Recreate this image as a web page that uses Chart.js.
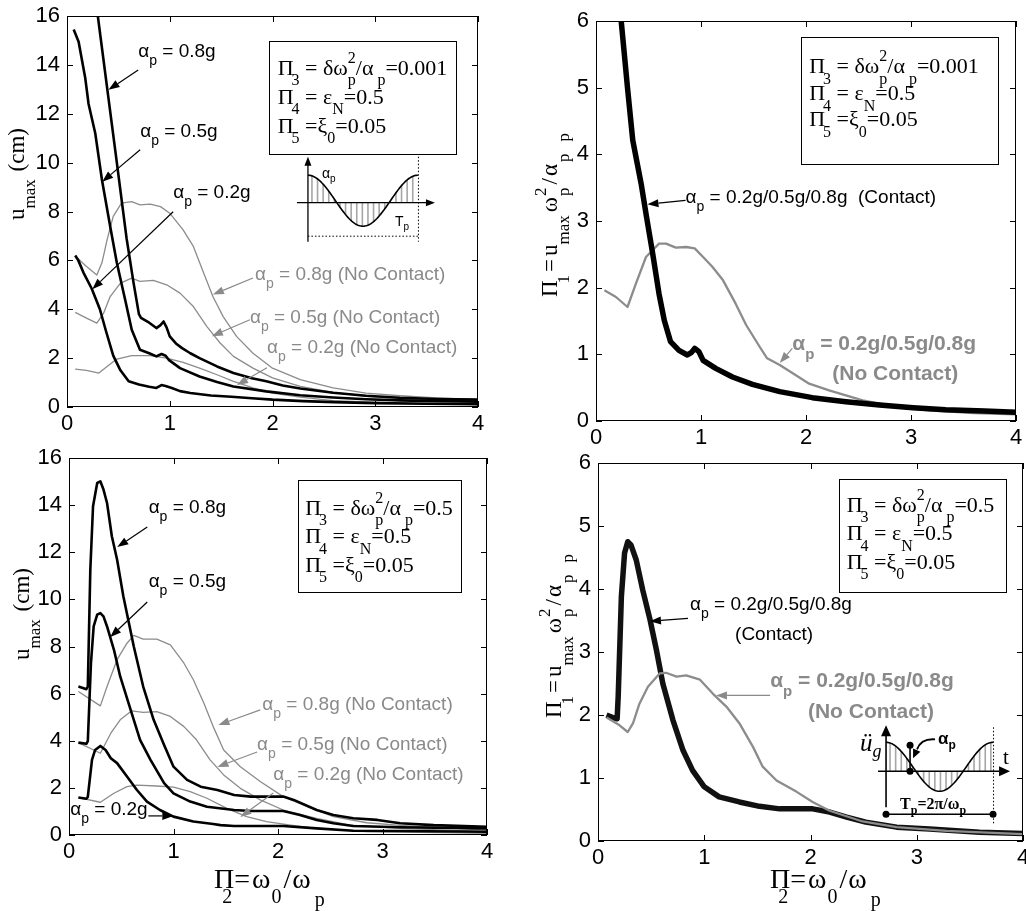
<!DOCTYPE html>
<html><head><meta charset="utf-8"><title>Peak displacement spectra</title>
<script src="https://cdn.jsdelivr.net/npm/chart.js@4.4.1/dist/chart.umd.min.js"></script>
<style>
html,body{margin:0;padding:0;background:#fff}
#wrap{position:relative;width:1026px;height:911px;overflow:hidden;background:#fff}
#wrap canvas{position:absolute;left:0;top:0}
</style></head><body><div id="wrap">
<canvas id="cA" width="1026" height="911"></canvas>
<canvas id="cB" width="1026" height="911"></canvas>
<canvas id="cC" width="1026" height="911"></canvas>
<canvas id="cD" width="1026" height="911"></canvas>
</div>
<script>
// ---------------- DATA ----------------
const xTicks = [0, 1, 2, 3, 4];
const yTicksU = [0, 2, 4, 6, 8, 10, 12, 14, 16];
const yTicksPi = [0, 1, 2, 3, 4, 5, 6];

// Panel A (top-left): u_max (cm), Pi3 = 0.001
const A_c08_x = [0.26,0.30,0.40,0.485,0.58,0.647,0.70,0.72,0.80,0.87,0.91,0.94,0.97,1.00,1.06,1.12,1.20,1.29,1.46,1.62,1.80,1.94,2.10,2.27,2.59,2.91,3.24,3.60,4.00];
const A_c08_y = [17.5,16.0,12.75,10.0,6.9,5.1,3.8,3.65,3.45,3.23,3.35,3.5,3.25,2.89,2.6,2.41,2.2,2.0,1.66,1.39,1.18,1.05,0.88,0.76,0.58,0.46,0.38,0.33,0.30];
const A_c05_x = [0.065,0.113,0.178,0.21,0.275,0.34,0.42,0.485,0.566,0.63,0.71,0.80,0.87,0.92,0.96,0.99,1.10,1.29,1.46,1.62,1.94,2.27,2.59,2.91,3.24,3.60,4.00];
const A_c05_y = [15.45,14.95,13.45,12.4,11.2,9.3,7.4,5.9,4.39,3.16,2.34,2.2,2.07,2.17,2.1,1.93,1.59,1.25,1.02,0.84,0.64,0.48,0.39,0.32,0.27,0.24,0.22];
const A_c02_x = [0.08,0.11,0.16,0.24,0.32,0.38,0.45,0.52,0.60,0.70,0.80,0.87,0.92,0.96,1.02,1.10,1.20,1.40,1.60,1.80,2.00,2.30,2.60,3.00,3.50,4.00];
const A_c02_y = [6.2,6.0,5.5,4.85,4.0,3.1,2.1,1.5,1.05,0.92,0.83,0.78,0.9,0.86,0.78,0.65,0.57,0.47,0.42,0.36,0.3,0.24,0.2,0.16,0.13,0.11];
const A_n08_x = [0.08,0.19,0.29,0.34,0.39,0.45,0.53,0.63,0.71,0.81,0.91,1.00,1.13,1.23,1.33,1.42,1.52,1.65,1.81,2.00,2.27,2.59,2.91,3.24,3.60,4.00];
const A_n08_y = [6.18,5.75,5.4,5.9,6.84,7.8,8.34,8.4,8.27,8.3,8.2,7.93,7.25,6.57,5.48,4.52,3.7,2.89,2.2,1.59,1.12,0.78,0.57,0.46,0.37,0.3];
const A_n05_x = [0.08,0.19,0.29,0.356,0.42,0.52,0.63,0.71,0.84,0.97,1.10,1.23,1.36,1.49,1.62,1.81,2.00,2.27,2.59,2.91,3.24,3.60,4.00];
const A_n05_y = [3.87,3.64,3.43,3.84,4.52,5.07,5.27,5.14,5.18,5.0,4.66,4.11,3.3,2.62,2.07,1.59,1.19,0.84,0.6,0.44,0.35,0.28,0.23];
const A_n02_x = [0.08,0.19,0.31,0.39,0.485,0.63,0.81,0.97,1.13,1.29,1.46,1.62,1.81,2.00,2.27,2.59,3.24,4.00];
const A_n02_y = [1.55,1.5,1.39,1.66,1.96,2.1,2.1,2.0,1.83,1.59,1.32,1.05,0.78,0.57,0.4,0.26,0.16,0.1];

// Panel B (top-right): Pi1, Pi3 = 0.001
const B_c_x = [0.20,0.24,0.30,0.35,0.43,0.476,0.54,0.60,0.65,0.71,0.79,0.87,0.91,0.94,0.98,1.02,1.14,1.30,1.49,1.75,2.06,2.38,2.70,3.02,3.33,3.70,4.00];
const B_c_y = [6.9,6.0,5.0,4.21,3.56,3.11,2.51,1.91,1.51,1.19,1.06,0.99,1.03,1.09,1.04,0.91,0.79,0.66,0.55,0.44,0.35,0.29,0.24,0.2,0.17,0.15,0.13];
const B_n_x = [0.08,0.19,0.30,0.38,0.476,0.60,0.667,0.76,0.86,0.94,1.02,1.11,1.21,1.33,1.43,1.56,1.63,1.75,1.90,2.03,2.22,2.54,2.86,3.17,3.60,4.00];
const B_n_y = [1.96,1.86,1.71,2.06,2.46,2.66,2.66,2.6,2.61,2.59,2.46,2.31,2.11,1.76,1.44,1.11,0.94,0.84,0.69,0.56,0.46,0.31,0.21,0.16,0.12,0.1];

// Panel C (bottom-left): u_max (cm), Pi3 = 0.5
const C_c08_x = [0.09,0.14,0.166,0.18,0.204,0.23,0.27,0.30,0.33,0.364,0.41,0.46,0.52,0.62,0.71,0.81,0.91,1.00,1.13,1.26,1.42,1.58,1.74,2.05,2.15,2.37,2.53,2.72,2.95,3.17,3.49,4.00];
const C_c08_y = [6.3,6.23,6.19,6.3,11.26,13.95,14.94,15.01,14.66,14.09,12.68,11.69,10.13,8.0,6.3,4.89,3.82,2.9,2.34,2.05,1.91,1.7,1.63,1.63,1.49,1.06,0.85,0.71,0.64,0.5,0.42,0.35];
const C_c05_x = [0.09,0.166,0.18,0.21,0.236,0.27,0.30,0.33,0.364,0.43,0.49,0.59,0.68,0.78,0.91,1.00,1.16,1.32,1.58,1.74,2.05,2.21,2.37,2.53,2.72,3.17,4.00];
const C_c05_y = [3.92,3.87,3.98,7.29,8.85,9.35,9.42,9.28,8.85,7.86,6.73,5.31,4.04,3.19,2.2,1.77,1.42,1.2,1.06,1.02,1.02,0.85,0.64,0.5,0.38,0.33,0.28];
const C_c02_x = [0.09,0.166,0.18,0.22,0.25,0.30,0.35,0.40,0.46,0.555,0.65,0.746,0.87,1.00,1.19,1.38,1.45,1.58,2.05,2.37,2.72,3.17,4.00];
const C_c02_y = [1.59,1.54,1.62,3.19,3.61,3.78,3.61,3.26,3.05,2.48,1.91,1.42,1.06,0.78,0.57,0.47,0.42,0.38,0.38,0.28,0.18,0.17,0.14];
const C_n08_x = [0.09,0.30,0.364,0.46,0.555,0.62,0.71,0.84,0.97,1.10,1.19,1.29,1.38,1.48,1.64,1.83,2.05,2.28,2.53,2.85,3.17,4.00];
const C_n08_y = [6.09,5.48,6.3,7.44,8.14,8.47,8.31,8.31,8.07,7.29,6.59,5.6,4.6,3.61,2.9,2.27,1.63,1.2,0.78,0.52,0.41,0.21];
const C_n05_x = [0.09,0.30,0.40,0.49,0.60,0.71,0.84,0.97,1.10,1.22,1.35,1.48,1.64,1.83,2.05,2.37,2.69,3.17,4.00];
const C_n05_y = [3.92,3.47,4.32,4.89,5.27,5.2,5.24,5.03,4.6,4.04,3.19,2.55,1.98,1.49,1.06,0.71,0.42,0.28,0.14];
const C_n02_x = [0.09,0.30,0.43,0.555,0.65,0.84,1.00,1.16,1.32,1.51,1.70,1.89,2.12,2.37,2.85,4.00];
const C_n02_y = [1.59,1.39,1.77,2.05,2.12,2.08,2.03,1.84,1.56,1.13,0.78,0.57,0.42,0.28,0.14,0.07];

// Panel D (bottom-right): Pi1, Pi3 = 0.5
const D_c_x = [0.08,0.14,0.18,0.19,0.22,0.25,0.28,0.31,0.36,0.42,0.49,0.55,0.61,0.705,0.80,0.89,1.00,1.14,1.33,1.52,1.71,2.02,2.18,2.34,2.52,2.81,3.12,3.59,4.00];
const D_c_y = [2.0,1.96,1.94,2.29,3.88,4.57,4.75,4.70,4.46,3.99,3.51,3.03,2.5,1.92,1.44,1.12,0.86,0.70,0.62,0.55,0.51,0.51,0.46,0.38,0.30,0.22,0.19,0.14,0.12];
const D_n_x = [0.08,0.20,0.28,0.33,0.39,0.47,0.58,0.64,0.74,0.83,0.96,1.08,1.21,1.33,1.46,1.55,1.68,1.87,2.02,2.18,2.49,2.81,3.28,4.00];
const D_n_y = [1.96,1.84,1.73,1.87,2.18,2.45,2.66,2.67,2.61,2.63,2.56,2.34,2.13,1.87,1.49,1.18,0.96,0.78,0.62,0.48,0.31,0.22,0.16,0.11];

// ---------------- STYLE / HELPERS ----------------
const FS = "'Liberation Sans', Arial, Helvetica, sans-serif";
const FT = "'Liberation Serif', 'Times New Roman', Times, serif";
const BLACK = '#000000', GRAY = '#8a8a8a', LGRAY = '#8c8c8c';
const YAXW = 60, XAXH = 40;

function pts(xs, ys){ return xs.map((x,i)=>({x:x, y:ys[i]})); }

function rich(ctx, x, y, segs, o){
  const fam=o.family||FS, S=o.size, s=o.sub||Math.round(S*0.72), w=o.weight||'normal', st=o.style||'normal';
  const drop=(o.drop!=null?o.drop:0.45)*S, rise=(o.rise!=null?o.rise:0.5)*S;
  const font=(sz)=>st+' '+w+' '+sz+'px '+fam;
  ctx.save(); ctx.translate(x,y); if(o.rot) ctx.rotate(o.rot);
  ctx.fillStyle=o.color||BLACK; ctx.textAlign='left'; ctx.textBaseline='alphabetic';
  let cx=0;
  for(const g of segs){
    const t=g[0], k=g[1]||'', dx=g[2]||0, dy=g[3]||0;
    cx+=dx;
    if(k==='sub'){ ctx.font=font(s); ctx.fillText(t,cx,drop+dy); cx+=ctx.measureText(t).width; }
    else if(k==='sup'){ ctx.font=font(s); ctx.fillText(t,cx,-rise+dy); cx+=ctx.measureText(t).width; }
    else if(k==='ss'){ const ab=t.split('|'); ctx.font=font(s); ctx.fillText(ab[0],cx,-rise); ctx.fillText(ab[1],cx,drop);
      cx+=Math.max(ctx.measureText(ab[0]).width, ctx.measureText(ab[1]).width); }
    else { ctx.font=font(S); ctx.fillText(t,cx,dy); cx+=ctx.measureText(t).width; }
  }
  ctx.restore(); return cx;
}

function arrowHead(ctx, x2, y2, ang, hl, hw){
  const bx=x2-hl*Math.cos(ang), by=y2-hl*Math.sin(ang);
  ctx.beginPath(); ctx.moveTo(x2,y2);
  ctx.lineTo(bx-hw*Math.sin(ang), by+hw*Math.cos(ang));
  ctx.lineTo(bx+hw*Math.sin(ang), by-hw*Math.cos(ang));
  ctx.closePath(); ctx.fill();
  return [bx,by];
}
function arrow(ctx, x1,y1,x2,y2,color,lw){
  const ang=Math.atan2(y2-y1,x2-x1);
  ctx.save(); ctx.strokeStyle=color; ctx.fillStyle=color; ctx.lineWidth=lw||1.2;
  const b=arrowHead(ctx,x2,y2,ang,11,4);
  ctx.beginPath(); ctx.moveTo(x1,y1); ctx.lineTo(b[0],b[1]); ctx.stroke();
  ctx.restore();
}

function ap(rest){ return [['α'],['p','sub'],[rest]]; }

const boxLinesA = [
  [['Π'],['3','sub',-2],[' = δω'],['2|p','ss'],['/α'],['p','sub',4],['=0.001']],
  [['Π'],['4','sub',-2],[' = ε'],['N','sub'],['=0.5']],
  [['Π'],['5','sub',-2],[' =ξ'],['0','sub'],['=0.05']]
];
const boxLinesC = [
  [['Π'],['3','sub',-2],[' = δω'],['2|p','ss'],['/α'],['p','sub',4],['=0.5']],
  [['Π'],['4','sub',-2],[' = ε'],['N','sub'],['=0.5']],
  [['Π'],['5','sub',-2],[' =ξ'],['0','sub'],['=0.05']]
];
const titleU = [['u'],['max','sub'],[' (cm)',null,2]];
const titlePi1 = [['Π'],['1','sub',-3],['=',null,3],['u',null,3],['max','sub'],['ω',null,3],['2|p','ss',1],['/',null,3],['α',null,2],['p','sub',2],['p','sub',12]];
const titlePi2 = [['Π'],['2','sub',-12],['=',null,2],['ω',null,2],['0','sub',1],['/',null,2],['ω',null,1],['p','sub',4,3]];

// inset drawings (decorative pulse sketch), anchored at data position
function inset1(ctx, ox, oy){
  ctx.save(); ctx.translate(ox,oy);
  const P=110, A=25.5, C=-2;
  ctx.strokeStyle='#a6a6a6'; ctx.lineWidth=1.6;
  for(let x=4; x<P; x+=5.6){ const yy=C-A*Math.cos(2*Math.PI*x/P); ctx.beginPath(); ctx.moveTo(x,0); ctx.lineTo(x,yy); ctx.stroke(); }
  ctx.strokeStyle='#000'; ctx.lineWidth=1.6; ctx.beginPath();
  for(let x=0; x<=P; x+=1){ const yy=C-A*Math.cos(2*Math.PI*x/P); if(x===0) ctx.moveTo(x,yy); else ctx.lineTo(x,yy); }
  ctx.stroke();
  ctx.fillStyle='#000'; ctx.lineWidth=1.3;
  ctx.beginPath(); ctx.moveTo(0,39); ctx.lineTo(0,-38); ctx.stroke(); arrowHead(ctx,0,-46,-Math.PI/2,9,3.5);
  ctx.beginPath(); ctx.moveTo(-11,0); ctx.lineTo(119,0); ctx.stroke(); arrowHead(ctx,127,0,0,9,3.5);
  ctx.setLineDash([1.5,2]); ctx.lineWidth=1;
  ctx.beginPath(); ctx.moveTo(P+0.5,-46); ctx.lineTo(P+0.5,39); ctx.moveTo(0,33.5); ctx.lineTo(P,33.5); ctx.stroke();
  ctx.setLineDash([]);
  rich(ctx,14,-25,[['α'],['p','sub']],{family:FS,size:14,drop:0.3});
  rich(ctx,87,23,[['T'],['p','sub']],{family:FS,size:14,drop:0.3});
  ctx.restore();
}
function inset2(ctx, ox, oy){
  ctx.save(); ctx.translate(ox,oy);
  const P=107, A=24.5, C=-4.5;
  ctx.strokeStyle='#a6a6a6'; ctx.lineWidth=1.6;
  for(let x=4; x<P; x+=5.6){ const yy=C-A*Math.cos(2*Math.PI*x/P); ctx.beginPath(); ctx.moveTo(x,0); ctx.lineTo(x,yy); ctx.stroke(); }
  ctx.strokeStyle='#000'; ctx.lineWidth=1.6; ctx.beginPath();
  for(let x=0; x<=P; x+=1){ const yy=C-A*Math.cos(2*Math.PI*x/P); if(x===0) ctx.moveTo(x,yy); else ctx.lineTo(x,yy); }
  ctx.stroke();
  ctx.fillStyle='#000'; ctx.lineWidth=1.6;
  ctx.beginPath(); ctx.moveTo(0,36); ctx.lineTo(0,-36); ctx.stroke(); arrowHead(ctx,0,-46,-Math.PI/2,11,5);
  ctx.beginPath(); ctx.moveTo(-8,0); ctx.lineTo(113,0); ctx.stroke(); arrowHead(ctx,124,0,0,11,5);
  ctx.setLineDash([1.5,2]); ctx.lineWidth=1;
  ctx.beginPath(); ctx.moveTo(P+0.5,-44); ctx.lineTo(P+0.5,54); ctx.stroke();
  ctx.setLineDash([]);
  ctx.lineWidth=1.6;
  ctx.beginPath(); ctx.moveTo(0,43); ctx.lineTo(P,43); ctx.stroke();
  ctx.beginPath(); ctx.arc(0,43,3.5,0,7); ctx.fill(); ctx.beginPath(); ctx.arc(P,43,3.5,0,7); ctx.fill();
  ctx.beginPath(); ctx.moveTo(24,-26); ctx.lineTo(24,0); ctx.stroke();
  ctx.beginPath(); ctx.arc(24,-26,3.5,0,7); ctx.fill(); ctx.beginPath(); ctx.arc(24,0,3.5,0,7); ctx.fill();
  ctx.lineWidth=1.8; ctx.beginPath(); ctx.moveTo(49,-32); ctx.quadraticCurveTo(35,-33,31,-22); ctx.stroke();
  arrowHead(ctx,27,-13,Math.atan2(9,-4),9,4);
  rich(ctx,-26,-20,[['ü'],['g','sub',0,-2]],{family:FT,size:25,style:'italic',drop:0.3});
  rich(ctx,117,-7,[['t']],{family:FT,size:21});
  rich(ctx,52,-27,[['α'],['p','sub']],{family:FS,size:17,weight:'bold',drop:0.3});
  rich(ctx,14,38,[['T'],['p','sub'],['=2π/ω'],['p','sub']],{family:FT,size:16,weight:'bold',drop:0.3});
  ctx.restore();
}

// ---------------- PANELS ----------------
const panels = [
  { id:'cA', area:{l:67,t:16,r:478,b:407}, yMax:16, yStep:2,
    lines:[
      {xs:A_c08_x, ys:A_c08_y, c:BLACK, w:2.6},
      {xs:A_c05_x, ys:A_c05_y, c:BLACK, w:2.6},
      {xs:A_c02_x, ys:A_c02_y, c:BLACK, w:2.6},
      {xs:A_n08_x, ys:A_n08_y, c:LGRAY, w:1.3},
      {xs:A_n05_x, ys:A_n05_y, c:LGRAY, w:1.3},
      {xs:A_n02_x, ys:A_n02_y, c:LGRAY, w:1.3}],
    notes:[
      {x:0.693,y:14.32,segs:ap(' = 0.8g'),c:BLACK, ar:[0.693,13.79,0.404,12.98]},
      {x:0.712,y:11.06,segs:ap(' = 0.5g'),c:BLACK, ar:[0.712,10.53,0.343,9.22]},
      {x:1.033,y:8.56,segs:ap(' = 0.2g'),c:BLACK, ar:[1.033,7.99,0.246,4.82]},
      {x:1.83,y:5.2,segs:ap(' = 0.8g (No Contact)'),c:GRAY, ar:[1.81,5.28,1.42,4.6]},
      {x:1.78,y:3.45,segs:ap(' = 0.5g (No Contact)'),c:GRAY, ar:[1.78,3.57,1.41,2.9]},
      {x:1.946,y:2.22,segs:ap(' = 0.2g (No Contact)'),c:GRAY, ar:[1.946,1.61,1.655,0.9]}],
    box:{x1:1.97,y1:14.98,x2:3.79,y2:10.36, tx:2.05, ty:[13.6,12.41,11.22], lines:boxLinesA},
    inset:{k:1,x:2.345,y:8.36},
    ytitle:{x:23.5,y:220,segs:titleU}, xtitle:null },
  { id:'cB', area:{l:596,t:21,r:1016,b:421}, yMax:6, yStep:1,
    lines:[
      {xs:B_c_x, ys:B_c_y, c:BLACK, w:5.5},
      {xs:B_n_x, ys:B_n_y, c:LGRAY, w:2.3}],
    notes:[
      {x:0.853,y:3.265,segs:ap(' = 0.2g/0.5g/0.8g  (Contact)'),c:BLACK, ar:[0.853,3.31,0.49,3.25]},
      {x:1.87,y:1.06,segs:ap(' = 0.2g/0.5g/0.8g'),c:GRAY,bold:true, ar:[1.87,1.09,1.75,0.87]},
      {x:2.25,y:0.61,segs:[['(No Contact)']],c:GRAY,bold:true}],
    box:{x1:1.956,y1:5.755,x2:3.83,y2:3.85, tx:2.03, ty:[5.215,4.81,4.42], lines:boxLinesA},
    inset:null,
    ytitle:{x:557,y:297,segs:titlePi1}, xtitle:null },
  { id:'cC', area:{l:69,t:458,r:487,b:835}, yMax:16, yStep:2,
    lines:[
      {xs:C_c08_x, ys:C_c08_y, c:BLACK, w:2.6},
      {xs:C_c05_x, ys:C_c05_y, c:BLACK, w:2.6},
      {xs:C_c02_x, ys:C_c02_y, c:BLACK, w:2.6},
      {xs:C_n08_x, ys:C_n08_y, c:LGRAY, w:1.3},
      {xs:C_n05_x, ys:C_n05_y, c:LGRAY, w:1.3},
      {xs:C_n02_x, ys:C_n02_y, c:LGRAY, w:1.3}],
    notes:[
      {x:0.762,y:13.65,segs:ap(' = 0.8g'),c:BLACK, ar:[0.749,13.07,0.462,12.22]},
      {x:0.762,y:10.53,segs:ap(' = 0.5g'),c:BLACK, ar:[0.749,9.89,0.395,8.4]},
      {x:0.012,y:0.85,segs:ap(' = 0.2g'),c:BLACK, ar:[0.759,0.81,0.998,0.81]},
      {x:1.85,y:5.31,segs:ap(' = 0.8g (No Contact)'),c:GRAY, ar:[1.83,5.31,1.43,4.67]},
      {x:1.80,y:3.61,segs:ap(' = 0.5g (No Contact)'),c:GRAY, ar:[1.80,3.52,1.42,2.89]},
      {x:1.955,y:2.33,segs:ap(' = 0.2g (No Contact)'),c:GRAY, ar:[1.955,1.78,1.64,0.76]}],
    box:{x1:2.19,y1:15.07,x2:3.75,y2:10.33, tx:2.26, ty:[13.58,12.38,11.18], lines:boxLinesC},
    inset:null,
    ytitle:{x:28.5,y:660,segs:titleU}, xtitle:{x:214,y:888,segs:titlePi2} },
  { id:'cD', area:{l:598,t:463,r:1023,b:841}, yMax:6, yStep:1,
    lines:[
      {xs:D_n_x, ys:D_n_y, c:LGRAY, w:2.3},
      {xs:D_c_x, ys:D_c_y, c:'#111111', w:5.5}],
    notes:[
      {x:0.866,y:3.66,segs:ap(' = 0.2g/0.5g/0.8g'),c:BLACK, ar:[0.847,3.535,0.489,3.487]},
      {x:1.29,y:3.19,segs:[['(Contact)']],c:BLACK},
      {x:1.62,y:2.44,segs:ap(' = 0.2g/0.5g/0.8g'),c:GRAY,bold:true, ar:[1.62,2.31,1.11,2.31]},
      {x:1.976,y:1.96,segs:[['(No Contact)']],c:GRAY,bold:true}],
    box:{x1:2.27,y1:5.75,x2:3.84,y2:3.95, tx:2.34, ty:[5.22,4.77,4.32], lines:boxLinesC},
    inset:{k:2,x:2.711,y:1.106},
    ytitle:{x:561,y:718,segs:titlePi1}, xtitle:{x:770,y:888,segs:titlePi2} }
];

function makePlugin(p){
  return {
    id:'deco_'+p.id,
    afterDatasetsDraw(chart){
      const ctx=chart.ctx, a=chart.chartArea, sx=chart.scales.x, sy=chart.scales.y;
      const X=v=>sx.getPixelForValue(v), Y=v=>sy.getPixelForValue(v);
      ctx.save();
      ctx.strokeStyle='#000'; ctx.lineWidth=1;
      ctx.strokeRect(Math.round(a.left)+0.5, Math.round(a.top)+0.5, Math.round(a.right-a.left)-1, Math.round(a.bottom-a.top)-1);
      const L=6; ctx.beginPath();
      sx.ticks.forEach(t=>{ const q=Math.round(X(t.value))+0.5; ctx.moveTo(q,a.bottom); ctx.lineTo(q,a.bottom-L); ctx.moveTo(q,a.top); ctx.lineTo(q,a.top+L); });
      sy.ticks.forEach(t=>{ const q=Math.round(Y(t.value))+0.5; ctx.moveTo(a.left,q); ctx.lineTo(a.left+L,q); ctx.moveTo(a.right,q); ctx.lineTo(a.right-L,q); });
      ctx.stroke();
      const b=p.box;
      const bx1=Math.round(X(b.x1))+0.5, by1=Math.round(Y(b.y1))+0.5, bx2=Math.round(X(b.x2))+0.5, by2=Math.round(Y(b.y2))+0.5;
      ctx.fillStyle='#fff'; ctx.fillRect(bx1,by1,bx2-bx1,by2-by1);
      ctx.strokeStyle='#000'; ctx.lineWidth=1; ctx.strokeRect(bx1,by1,bx2-bx1,by2-by1);
      b.lines.forEach((ln,i)=>rich(ctx, X(b.tx), Y(b.ty[i]), ln, {family:FT,size:22,sub:16,drop:0.47,rise:0.55}));
      if(p.inset){ if(p.inset.k===1) inset1(ctx, X(p.inset.x), Y(p.inset.y)); else inset2(ctx, X(p.inset.x), Y(p.inset.y)); }
      p.notes.forEach(n=>{
        if(n.ar) arrow(ctx, X(n.ar[0]),Y(n.ar[1]),X(n.ar[2]),Y(n.ar[3]), n.c, 1.2);
        rich(ctx, X(n.x), Y(n.y), n.segs, {family:FS, size:n.bold?21:19, sub:n.bold?15:14, weight:n.bold?'bold':'normal', color:n.c, drop:0.42});
      });
      if(p.ytitle) rich(ctx, p.ytitle.x, p.ytitle.y, p.ytitle.segs, {family:FT,size:23,sub:17,drop:0.5,rise:0.5,rot:-Math.PI/2});
      if(p.xtitle) rich(ctx, p.xtitle.x, p.xtitle.y, p.xtitle.segs, {family:FT,size:28,sub:20,drop:0.55});
      ctx.restore();
    }
  };
}

panels.forEach(p=>{
  const datasets = p.lines.map(l=>({
    data: pts(l.xs, l.ys), borderColor:l.c, borderWidth:l.w, pointRadius:0, tension:0,
    fill:false, clip:0, borderJoinStyle:'round', borderCapStyle:'butt'
  }));
  new Chart(document.getElementById(p.id), {
    type:'line',
    data:{datasets},
    options:{
      responsive:false, animation:false, events:[], devicePixelRatio:1,
      layout:{padding:{left:p.area.l-YAXW, top:p.area.t, right:1026-p.area.r, bottom:911-p.area.b-XAXH}},
      plugins:{legend:{display:false}, tooltip:{enabled:false}, title:{display:false}},
      scales:{
        x:{type:'linear', min:xTicks[0], max:xTicks[xTicks.length-1],
           ticks:{stepSize:1, color:'#000', padding:4, font:{family:FS,size:22}, maxRotation:0, autoSkip:false},
           grid:{display:false, drawTicks:false}, border:{display:false},
           afterFit(s){ s.height=XAXH; s.paddingLeft=0; s.paddingRight=0; }},
        y:{type:'linear', min:0, max:p.yMax,
           ticks:{stepSize:p.yStep, color:'#000', padding:7, font:{family:FS,size:22}, autoSkip:false},
           grid:{display:false, drawTicks:false}, border:{display:false},
           afterFit(s){ s.width=YAXW; s.paddingTop=0; s.paddingBottom=0; }}
      }
    },
    plugins:[makePlugin(p)]
  });
});
</script></body></html>
